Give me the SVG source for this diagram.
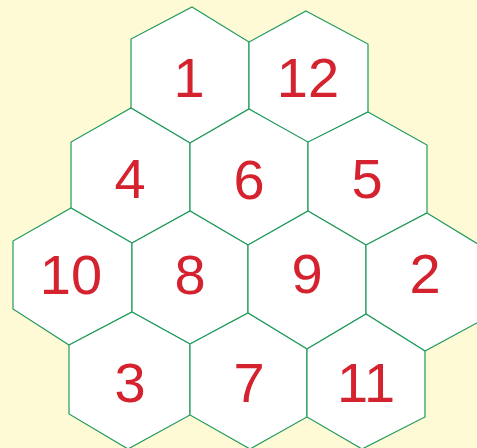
<svg xmlns="http://www.w3.org/2000/svg" width="477" height="448" viewBox="0 0 477 448">
<style>
.hex{fill:#ffffff;stroke:#1f9a5c;stroke-width:1.2;stroke-linejoin:miter}
.lbl{font-family:"Liberation Sans",Arial,sans-serif;font-size:56px;fill:#d4222e;text-anchor:middle}
</style>
<rect width="477" height="448" fill="#fefad6"/>
<g id="hex1"><polygon class="hex" points="192,7 249,42 249,109 190,143 131,108 131,39"/><text class="lbl" x="189" y="97">1</text></g>
<g id="hex12"><polygon class="hex" points="306,11 368,44 368,112 307,143 249,109 249,42"/><text class="lbl" x="308" y="97">12</text></g>
<g id="hex4"><polygon class="hex" points="131,108 190,143 190,211 132,243 71,208 71,142"/><text class="lbl" x="130" y="198">4</text></g>
<g id="hex6"><polygon class="hex" points="249,109 308,142 308,211 248,245 190,211 190,143"/><text class="lbl" x="249" y="199">6</text></g>
<g id="hex5"><polygon class="hex" points="368,112 427,145 427,213 366,245 308,211 308,142"/><text class="lbl" x="367" y="198">5</text></g>
<g id="hex10"><polygon class="hex" points="71,208 132,243 132,312 69,345 13,309 13,241"/><text class="lbl" x="71" y="294">10</text></g>
<g id="hex8"><polygon class="hex" points="190,211 248,245 248,313 190,344 132,312 132,243"/><text class="lbl" x="190" y="294">8</text></g>
<g id="hex9"><polygon class="hex" points="308,211 366,245 366,314 307,349 248,313 248,245"/><text class="lbl" x="307" y="293">9</text></g>
<g id="hex2"><polygon class="hex" points="427,213 486,249 486,318 425,351 366,314 366,245"/><text class="lbl" x="425" y="293">2</text></g>
<g id="hex3"><polygon class="hex" points="132,312 190,344 190,415 128,449 69,414 69,345"/><text class="lbl" x="130" y="402">3</text></g>
<g id="hex7"><polygon class="hex" points="248,313 307,349 307,417 250,449 190,415 190,344"/><text class="lbl" x="249" y="402">7</text></g>
<g id="hex11"><polygon class="hex" points="366,314 425,351 425,417 362,449 307,417 307,349"/><text class="lbl" x="366" y="402">11</text></g>
<g id="connectors"/>
</svg>
